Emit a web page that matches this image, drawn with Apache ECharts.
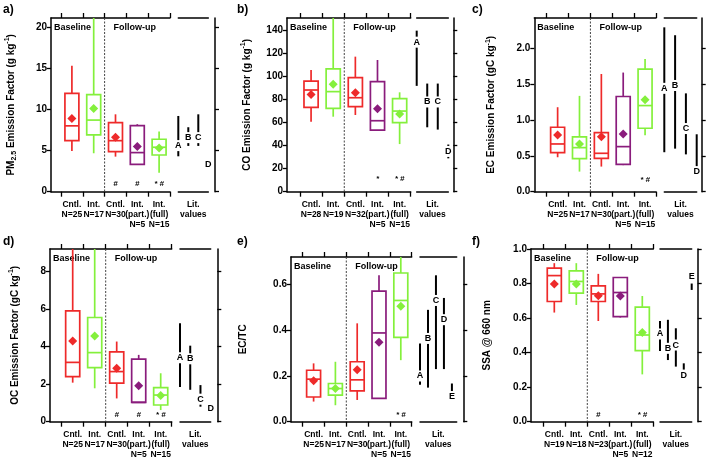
<!DOCTYPE html>
<html><head><meta charset="utf-8">
<script src="https://cdn.jsdelivr.net/npm/echarts@6/dist/echarts.min.js"></script>
<style>html,body{margin:0;padding:0;background:#fff}#c{width:709px;height:461px}</style>
</head><body><div id="c"></div>
<script>
// ================= DATA =================
const groupNames = ['Cntl.', 'Int.', 'Cntl.', 'Int.\n(part.)', 'Int.\n(full)'];
const litNames4 = ['A', 'B', 'C', 'D'];
const litNames5 = ['A', 'B', 'C', 'D', 'E'];

// box rows: [low whisker, Q1, median, Q3, high whisker, mean]
// lit rows: [high, low, label position]

// a) PM2.5
const pmN = [25, 17, 30, 5, 15];
const pmStats = [
  [4.95, 6.2, 8.0, 11.95, 15.3, 8.9],
  [4.67, 6.9, 8.7, 11.8, 22, 10.1],
  [4.26, 4.87, 6.2, 8.4, 9.4, 6.6],
  [3.3, 3.33, 4.75, 8.03, 8.2, 5.48],
  [2.3, 4.46, 5.4, 6.37, 7.3, 5.3]
];
const pmSig = ['', '', '#', '#', '* #'];
const pmLit = [[9.2, 4.3, 5.6], [7.83, 5.56, 6.57], [9.4, 5.56, 6.57], [3.25, 3.25, 3.25]];
const pmTicks = [0, 5, 10, 15, 20];

// b) CO
const coN = [28, 19, 32, 5, 15];
const coStats = [
  [60.9, 73.3, 88.4, 96.2, 105.8, 84.6],
  [65.2, 72.5, 87, 106.7, 160, 93.3],
  [66.7, 73.9, 81.7, 99.1, 117.4, 86],
  [52.8, 53.6, 61.7, 95.7, 114.5, 72.2],
  [41.4, 60, 70.1, 80.9, 86.4, 67.5]
];
const coSig = ['', '', '', '*', '* #'];
const coLit = [[140, 92, 130], [94, 56, 78], [94, 54, 78], [41, 29, 35]];
const coTicks = [0, 20, 40, 60, 80, 100, 120, 140];

// c) EC
const ecN = [25, 17, 30, 5, 15];
const ecStats = [
  [0.48, 0.544, 0.665, 0.898, 1.177, 0.79],
  [0.28, 0.46, 0.614, 0.763, 1.335, 0.665],
  [0.35, 0.465, 0.535, 0.823, 1.64, 0.767],
  [0.37, 0.38, 0.628, 1.326, 1.66, 0.805],
  [0.786, 0.884, 1.2, 1.707, 1.85, 1.28]
];
const ecSig = ['', '', '', '', '* #'];
const ecLit = [[2.29, 0.55, 1.44], [2.18, 0.6, 1.48], [1.37, 0.52, 0.88], [0.8, 0.2, 0.28]];
const ecTicks = [0, 0.5, 1.0, 1.5, 2.0];

// d) OC
const ocN = [25, 17, 30, 5, 15];
const ocStats = [
  [2.08, 2.4, 3.16, 5.9, 9.5, 4.3],
  [1.78, 2.88, 3.68, 5.55, 9.5, 4.57],
  [1.24, 2.05, 2.67, 3.72, 4.27, 2.85],
  [1.03, 1.03, 1.03, 3.33, 3.56, 1.92],
  [0.62, 0.89, 1.42, 1.81, 2.58, 1.39]
];
const ocSig = ['', '', '#', '#', '* #'];
const ocLit = [[5.25, 1.85, 3.41], [4.05, 1.7, 3.35], [1.95, 0.8, 1.2], [0.55, 0.5, 0.7]];
const ocTicks = [0, 2, 4, 6, 8];

// e) EC/TC
const ectcN = [25, 17, 30, 5, 15];
const ectcStats = [
  [0.088, 0.108, 0.186, 0.225, 0.255, 0.179],
  [0.072, 0.116, 0.145, 0.167, 0.262, 0.145],
  [0.095, 0.135, 0.183, 0.262, 0.43, 0.227],
  [0.102, 0.102, 0.388, 0.571, 0.64, 0.347],
  [0.269, 0.369, 0.53, 0.65, 0.8, 0.505]
];
const ectcSig = ['', '', '', '', '* #'];
const ectcLit = [[0.342, 0.161, 0.2], [0.489, 0.149, 0.364], [0.64, 0.23, 0.53], [0.541, 0.23, 0.446], [0.167, 0.086, 0.11]];
const ectcTicks = [0, 0.2, 0.4, 0.6];

// f) SSA
const ssaN = [19, 18, 23, 5, 12];
const ssaStats = [
  [0.632, 0.696, 0.846, 0.889, 0.918, 0.798],
  [0.676, 0.744, 0.812, 0.873, 0.918, 0.798],
  [0.583, 0.696, 0.74, 0.786, 0.856, 0.73],
  [0.603, 0.609, 0.748, 0.835, 0.835, 0.728],
  [0.274, 0.412, 0.502, 0.663, 0.728, 0.516]
];
const ssaSig = ['', '', '#', '', '* #'];
const ssaLit = [[0.583, 0.41, 0.508], [0.59, 0.357, 0.425], [0.541, 0.319, 0.444], [0.338, 0.30, 0.27], [0.8, 0.763, 0.84]];
const ssaTicks = [0, 0.2, 0.4, 0.6, 0.8, 1.0];

// ================= STYLE / LAYOUT =================
const RED = '#ee2a2a', GREEN = '#84f03c', PURPLE = '#8a1c7c';
const groupColors = [RED, GREEN, RED, PURPLE, GREEN];
const FONT = '"Liberation Sans", Arial, Helvetica, sans-serif';

const panels = [
  {stats: pmStats, n: pmN, sig: pmSig, lit: pmLit, litNames: litNames4, ticks: pmTicks, ymax: 21.1, dec: 0,
   title: 'a)', yname: '{b|PM}{sub|2.5}{b| Emission Factor (g kg}{sup|-1}{b|)}',
   L: {tx: 3, ty: 4, axisX: 51, firstTick: 61, lastTick: 170, top: 18, bottom: 191.7, litL: 178.3, litR: 208.3, rAxis: 215, litMax: 3, nameGap: 33, sigOff: 8}},
  {stats: coStats, n: coN, sig: coSig, lit: coLit, litNames: litNames4, ticks: coTicks, ymax: 151, dec: 0,
   title: 'b)', yname: '{b|CO Emission Factor (g kg}{sup|-1}{b|)}',
   L: {tx: 237, ty: 4, axisX: 287, firstTick: 300, lastTick: 410.7, top: 18, bottom: 191.7, litL: 416.7, litR: 448.3, rAxis: 453.3, litMax: 3, nameGap: 33, sigOff: 13}},
  {stats: ecStats, n: ecN, sig: ecSig, lit: ecLit, litNames: litNames4, ticks: ecTicks, ymax: 2.42, dec: 1,
   title: 'c)', yname: '{b|EC Emission Factor (gC kg}{sup|-1}{b|)}',
   L: {tx: 472, ty: 4, axisX: 534.3, firstTick: 546.7, lastTick: 656, top: 18, bottom: 191.7, litL: 664.3, litR: 696.7, rAxis: 701.7, litMax: 3, nameGap: 36, sigOff: 12}},
  {stats: ocStats, n: ocN, sig: ocSig, lit: ocLit, litNames: litNames4, ticks: ocTicks, ymax: 9.2, dec: 0,
   title: 'd)', yname: '{b|OC Emission Factor (gC kg}{sup|-1}{b|)}',
   L: {tx: 3, ty: 236, axisX: 50, firstTick: 61.7, lastTick: 171.7, top: 249, bottom: 421.7, litL: 180, litR: 210.7, rAxis: 217.3, litMax: 3, nameGap: 28, sigOff: 7}},
  {stats: ectcStats, n: ectcN, sig: ectcSig, lit: ectcLit, litNames: litNames5, ticks: ectcTicks, ymax: 0.72, dec: 1,
   title: 'e)', yname: '{b|EC/TC}',
   L: {tx: 237, ty: 236, axisX: 291, firstTick: 302.7, lastTick: 411.7, top: 257, bottom: 421.7, litL: 420, litR: 456.7, rAxis: 463.3, litMax: 4.6, nameGap: 41, sigOff: 7}},
  {stats: ssaStats, n: ssaN, sig: ssaSig, lit: ssaLit, litNames: litNames5, ticks: ssaTicks, ymax: 1.0, dec: 1,
   title: 'f)', yname: '{b|SSA @ 660 nm}',
   L: {tx: 472, ty: 236, axisX: 531, firstTick: 543.3, lastTick: 653.3, top: 249, bottom: 421.7, litL: 660, litR: 691.7, rAxis: 697.7, litMax: 4, nameGap: 37, sigOff: 7}}
];

const boundaryTicks = [0.5, 1.5, 2.5, 3.5, 4.5, 5.5];
const centerVals = [1, 2, 3, 4, 5];
const AX = {color: '#000', width: 1.5};
const CAT_FONT = 'bold 8.5px ' + FONT;

const grid = [], xAxis = [], yAxis = [], series = [], graphic = [];

panels.forEach((p, k) => {
  const L = p.L;
  const sp = (L.lastTick - L.firstTick) / 5;
  const xmin = 0.5 - (L.firstTick - L.axisX) / sp;
  const height = L.bottom - L.top;
  grid.push({left: L.axisX, top: L.top, width: L.lastTick - L.axisX, height: height, containLabel: false});
  grid.push({left: L.litL, top: L.top, width: L.litR - L.litL, height: height, containLabel: false});
  const gMain = 2 * k, gLit = 2 * k + 1;
  const catLabels = p.n.map((n, i) => groupNames[i] + '\nN=' + n);

  // main bottom axis
  xAxis.push({gridIndex: gMain, type: 'value', min: xmin, max: 5.5, position: 'bottom',
    axisLine: {onZero: false, lineStyle: AX},
    axisTick: {show: true, customValues: boundaryTicks, length: 5, lineStyle: {color: '#000', width: 1.3}},
    axisLabel: {show: false}, splitLine: {show: false}});
  // main top axis
  xAxis.push({gridIndex: gMain, type: 'value', min: xmin, max: 5.5, position: 'top',
    axisLine: {onZero: false, lineStyle: AX},
    axisTick: {show: true, customValues: boundaryTicks, length: 5, lineStyle: {color: '#000', width: 1.3}},
    axisLabel: {show: false}, splitLine: {show: false}});
  // lit bottom axis
  xAxis.push({gridIndex: gLit, type: 'value', min: 0, max: L.litMax, position: 'bottom',
    axisLine: {onZero: false, lineStyle: AX}, axisTick: {show: false},
    axisLabel: {show: false}, splitLine: {show: false}});
  // lit top axis
  xAxis.push({gridIndex: gLit, type: 'value', min: 0, max: L.litMax, position: 'top',
    axisLine: {onZero: false, lineStyle: AX}, axisTick: {show: false}, axisLabel: {show: false}, splitLine: {show: false}});

  const fmt = v => Number(v).toFixed(p.dec);
  yAxis.push({gridIndex: gMain, type: 'value', min: 0, max: p.ymax, position: 'left',
    axisLine: {show: true, onZero: false, lineStyle: AX},
    axisTick: {show: true, customValues: p.ticks, length: 4, lineStyle: {color: '#000', width: 1.3}},
    axisLabel: {show: true, customValues: p.ticks, formatter: fmt, margin: 4, fontSize: 10, fontWeight: 'bold', color: '#000', fontFamily: FONT,
      showMinLabel: true, showMaxLabel: true, hideOverlap: false},
    splitLine: {show: false},
    name: p.yname, nameLocation: 'middle', nameGap: L.nameGap, nameRotate: 90,
    nameTextStyle: {fontFamily: FONT, color: '#000', lineHeight: 14, rich: {
      b: {fontSize: 10, fontWeight: 'bold', fontFamily: FONT, color: '#000', verticalAlign: 'middle'},
      sub: {fontSize: 7, fontWeight: 'bold', fontFamily: FONT, color: '#000', verticalAlign: 'bottom', lineHeight: 7},
      sup: {fontSize: 7, fontWeight: 'bold', fontFamily: FONT, color: '#000', verticalAlign: 'top', lineHeight: 7}
    }}});
  yAxis.push({gridIndex: gLit, type: 'value', min: 0, max: p.ymax, position: 'right', offset: L.rAxis - L.litR,
    axisLine: {show: true, onZero: false, lineStyle: AX},
    axisTick: {show: true, customValues: p.ticks, length: 4, lineStyle: {color: '#000', width: 1.3}},
    axisLabel: {show: false}, splitLine: {show: false}});

  const xiMain = 4 * k, xiLit = 4 * k + 2, yiMain = 2 * k, yiLit = 2 * k + 1;

  // decorations: dashed separator + section labels
  series.push({type: 'custom', xAxisIndex: xiMain, yAxisIndex: yiMain, clip: false, silent: true, z: 1,
    data: [[2.5, 0]],
    renderItem: (params, api) => {
      const cs = params.coordSys;
      const dx = api.coord([2.5, 0])[0];
      return {type: 'group', children: [
        {type: 'line', shape: {x1: dx, y1: cs.y, x2: dx, y2: cs.y + cs.height},
          style: {stroke: '#444', lineWidth: 1, lineDash: [2, 1.5]}},
        {type: 'text', x: cs.x + 3, y: cs.y + 9.5, style: {text: 'Baseline', font: 'bold 9px ' + FONT, fill: '#000', textAlign: 'left', textVerticalAlign: 'middle'}},
        {type: 'text', x: dx + 9, y: cs.y + 9.5, style: {text: 'Follow-up', font: 'bold 9px ' + FONT, fill: '#000', textAlign: 'left', textVerticalAlign: 'middle'}}
      ]};
    }});

  // category labels under the main axis
  series.push({type: 'custom', xAxisIndex: xiMain, yAxisIndex: yiMain, clip: false, silent: true, z: 2,
    data: centerVals.map(v => [v, 0]),
    renderItem: (params, api) => {
      const pt = api.coord([api.value(0), api.value(1)]);
      return {type: 'text', x: pt[0], y: pt[1] + 8,
        style: {text: catLabels[params.dataIndex], font: CAT_FONT, lineHeight: 10, fill: '#000', textAlign: 'center', textVerticalAlign: 'top'}};
    }});

  // boxes
  series.push({type: 'custom', xAxisIndex: xiMain, yAxisIndex: yiMain, clip: false, z: 3,
    data: p.stats.map((s, i) => [i + 1].concat(s)),
    renderItem: (params, api) => {
      const cs = params.coordSys;
      const i = params.dataIndex;
      const x = api.value(0);
      const c = groupColors[i];
      const yy = v => Math.max(cs.y, Math.min(cs.y + cs.height, api.coord([x, v])[1]));
      const cx = api.coord([x, 0])[0];
      const w = api.size([0.64, 0])[0];
      const yLo = yy(api.value(1)), yQ1 = yy(api.value(2)), yMed = yy(api.value(3)),
            yQ3 = yy(api.value(4)), yHi = yy(api.value(5)), yMean = yy(api.value(6));
      const lw = 1.7, d = 4.5;
      const ch = [];
      if (yHi < yQ3) ch.push({type: 'line', shape: {x1: cx, y1: yHi, x2: cx, y2: yQ3}, style: {stroke: c, lineWidth: lw}});
      if (yLo > yQ1) ch.push({type: 'line', shape: {x1: cx, y1: yQ1, x2: cx, y2: yLo}, style: {stroke: c, lineWidth: lw}});
      ch.push({type: 'rect', shape: {x: cx - w / 2, y: yQ3, width: w, height: yQ1 - yQ3}, style: {fill: 'none', stroke: c, lineWidth: lw}});
      ch.push({type: 'line', shape: {x1: cx - w / 2, y1: yMed, x2: cx + w / 2, y2: yMed}, style: {stroke: c, lineWidth: lw}});
      ch.push({type: 'polygon', shape: {points: [[cx, yMean - d], [cx + d, yMean], [cx, yMean + d], [cx - d, yMean]]}, style: {fill: c}});
      return {type: 'group', children: ch};
    }});

  // significance markers
  series.push({type: 'custom', xAxisIndex: xiMain, yAxisIndex: yiMain, clip: false, silent: true, z: 2,
    data: p.sig.map((t, i) => [i + 1, 0]),
    renderItem: (params, api) => {
      const pt = api.coord([api.value(0), api.value(1)]);
      return {type: 'text', x: pt[0], y: pt[1] - L.sigOff,
        style: {text: p.sig[params.dataIndex], font: 'italic bold 8px ' + FONT, fill: '#000', textAlign: 'center', textVerticalAlign: 'middle'}};
    }});

  // literature values + "Lit. values" label
  series.push({type: 'custom', xAxisIndex: xiLit, yAxisIndex: yiLit, clip: false, silent: true, z: 2,
    data: p.lit.map((r, i) => [i, r[0], r[1], r[2]]),
    renderItem: (params, api) => {
      const cs = params.coordSys;
      const x = api.value(0);
      const pHi = api.coord([x, api.value(1)]), pLo = api.coord([x, api.value(2)]), pL = api.coord([x, api.value(3)]);
      const cx = pHi[0], gap = 5.5;
      const ch = [];
      const segs = [[pHi[1], Math.min(pLo[1], pL[1] - gap)], [Math.max(pHi[1], pL[1] + gap), pLo[1]]];
      segs.forEach(s => {
        if (s[1] - s[0] > 0.5) ch.push({type: 'line', shape: {x1: cx, y1: s[0], x2: cx, y2: s[1]}, style: {stroke: '#000', lineWidth: 2}});
      });
      ch.push({type: 'text', x: cx, y: pL[1], style: {text: p.litNames[params.dataIndex], font: 'bold 9px ' + FONT, fill: '#000', textAlign: 'center', textVerticalAlign: 'middle'}});
      if (params.dataIndex === 0) {
        ch.push({type: 'text', x: cs.x + cs.width / 2, y: cs.y + cs.height + 8,
          style: {text: 'Lit.\nvalues', font: CAT_FONT, lineHeight: 10, fill: '#000', textAlign: 'center', textVerticalAlign: 'top'}});
      }
      return {type: 'group', children: ch};
    }});

  graphic.push({type: 'text', left: L.tx, top: L.ty, style: {text: p.title, font: 'bold 12px ' + FONT, fill: '#000'}});
});

const chart = echarts.init(document.getElementById('c'), null, {renderer: 'canvas'});
chart.setOption({animation: false, backgroundColor: '#fff', grid, xAxis, yAxis, series, graphic});
</script>
</body></html>
